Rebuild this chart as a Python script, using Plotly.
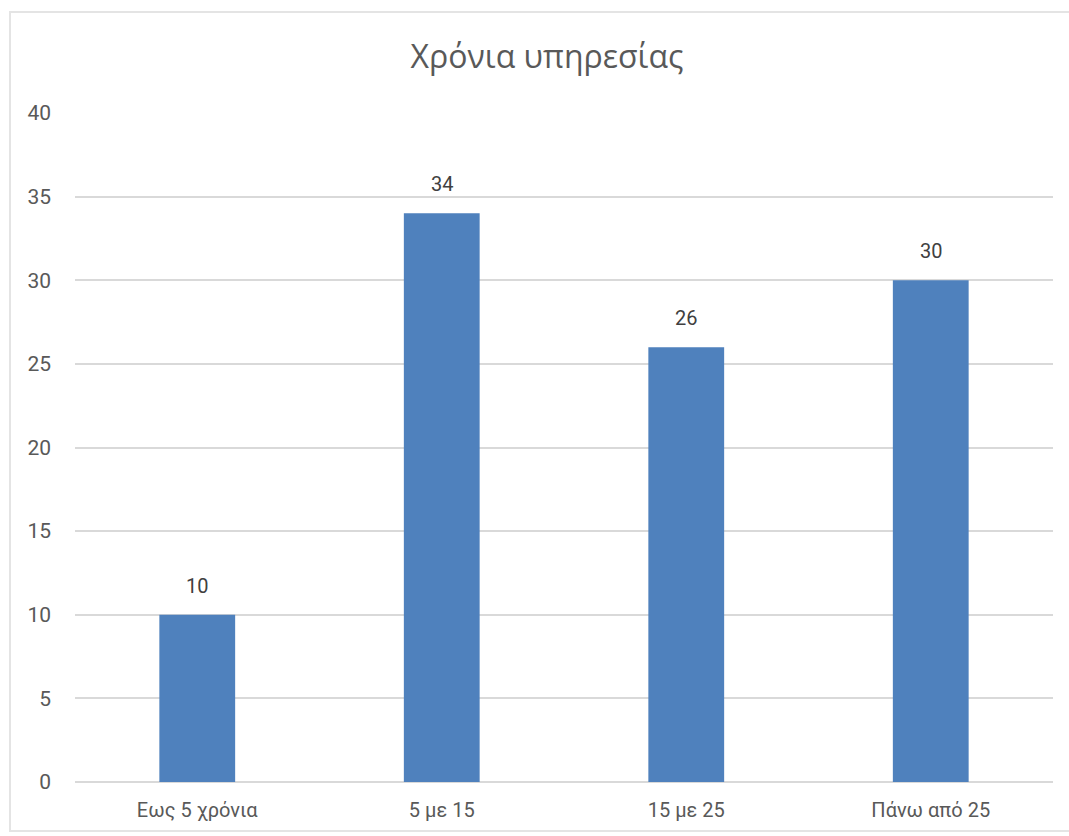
import plotly.graph_objects as go

categories = ["Εως 5 χρόνια", "5 με 15", "15 με 25", "Πάνω από 25"]
values = [10, 34, 26, 30]
title_text = "Χρόνια υπηρεσίας"
y_ticks = [0, 5, 10, 15, 20, 25, 30, 35, 40]

W, H = 1069, 836
text_color = "#595959"
bar_color = "#4F81BD"
grid_color = "#D9D9D9"

fig = go.Figure()
fig.add_trace(go.Bar(
    x=categories, y=values,
    marker=dict(color=bar_color, line=dict(width=0)),
    width=0.31,
    hoverinfo="x+y",
))

annotations = []
for c, v in zip(categories, values):
    annotations.append(dict(
        x=c, y=v, xref="x", yref="y", text=str(v), showarrow=False,
        yanchor="middle", yshift=29,
        font=dict(family="Roboto", size=20, color="#404040"),
    ))

plot_w = W - 75 - 16
plot_h = H - 113 - 54

fig.update_layout(
    width=W, height=H,
    margin=dict(l=75, r=16, t=113, b=54),
    paper_bgcolor="white", plot_bgcolor="white",
    font=dict(family="Roboto", color=text_color, size=18),
    title=dict(text=title_text, x=547 / W, xref="container", xanchor="center",
               y=1 - 57 / H, yref="container", yanchor="middle",
               font=dict(family="Open Sans", size=32, color=text_color)),
    showlegend=False,
    annotations=annotations,
    shapes=[dict(type="rect", xref="paper", yref="paper",
                 x0=(10 - 75) / plot_w, x1=(1085 - 75) / plot_w,
                 y0=(782 - 831) / plot_h, y1=(782 - 12) / plot_h,
                 line=dict(color="#E4E4E4", width=2), layer="below")],
)
fig.update_xaxes(
    showgrid=False, showline=False, zeroline=False,
    ticks="", ticklabelstandoff=14,
    tickfont=dict(family="Roboto", size=20, color=text_color),
)
fig.update_yaxes(
    range=[0, 40], tickvals=y_ticks,
    showgrid=True, gridcolor=grid_color, gridwidth=1.5,
    zeroline=True, zerolinecolor=grid_color, zerolinewidth=1.5,
    showline=False, ticks="", ticklabelstandoff=23,
    tickfont=dict(family="Roboto", size=21, color=text_color),
)

fig.write_html("out.html")
